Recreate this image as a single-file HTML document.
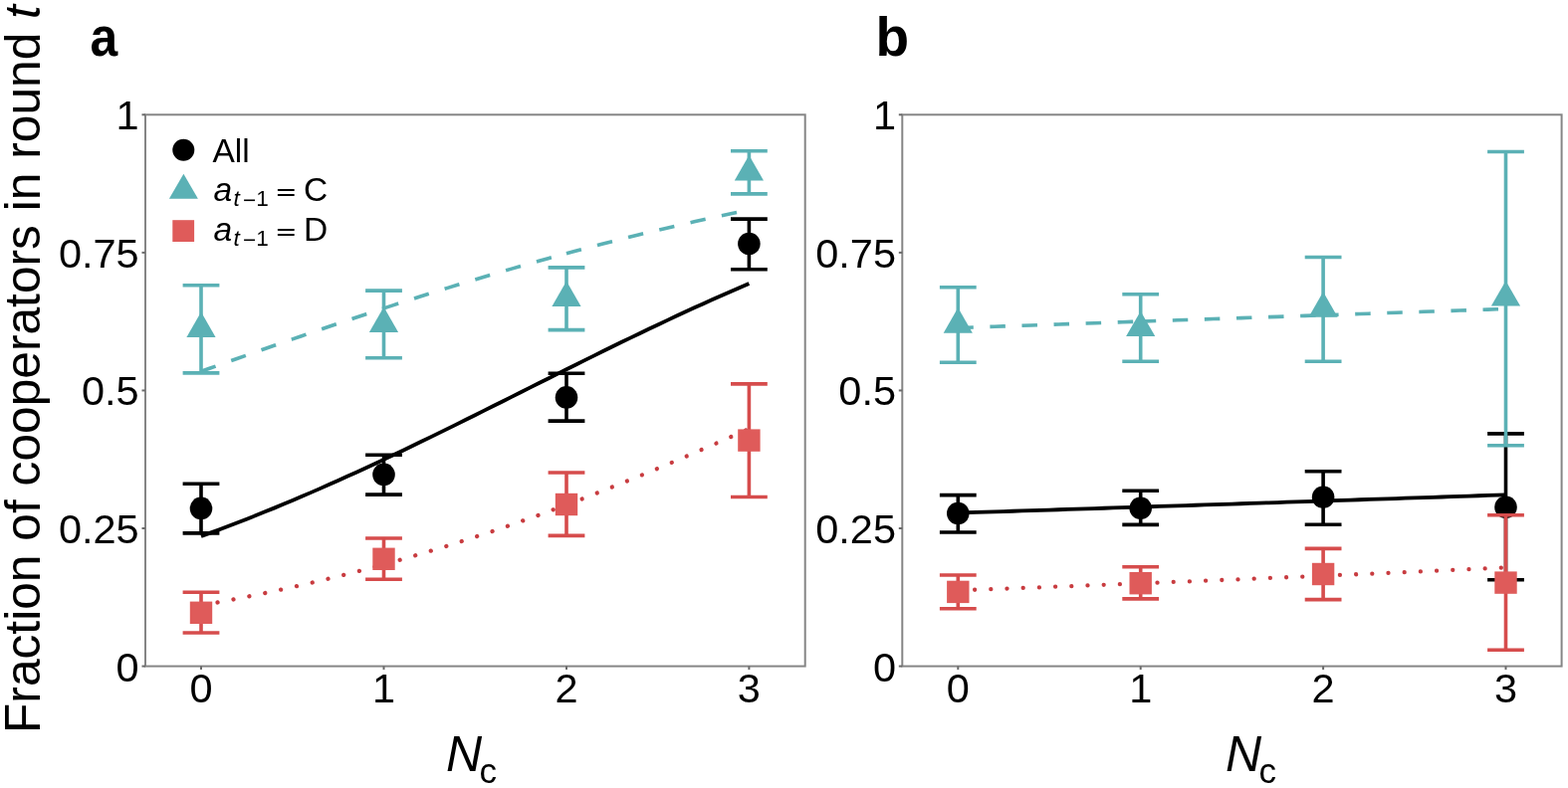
<!DOCTYPE html>
<html><head><meta charset="utf-8"><style>
html,body{margin:0;padding:0;background:#fff;}
body{width:1575px;height:792px;overflow:hidden;}
svg{display:block;}
text{font-family:"Liberation Sans",sans-serif;fill:#000;}
.tk{font-size:41.5px;}
.pl{font-size:55px;font-weight:bold;}
.yt{font-size:49.7px;}
.xt{font-size:50px;}
.sub{font-size:35px;}
.lg{font-size:33.5px;}
.ls{font-size:22.6px;}
</style></head><body>
<svg width="1575" height="792" viewBox="0 0 1575 792">
<rect width="1575" height="792" fill="#fff"/>
<rect x="146.0" y="115.3" width="662.70" height="554.30" fill="none" stroke="#858585" stroke-width="2"/>
<line x1="142.5" y1="669.60" x2="146.0" y2="669.60" stroke="#6a6a6a" stroke-width="2"/>
<line x1="142.5" y1="531.02" x2="146.0" y2="531.02" stroke="#6a6a6a" stroke-width="2"/>
<line x1="142.5" y1="392.45" x2="146.0" y2="392.45" stroke="#6a6a6a" stroke-width="2"/>
<line x1="142.5" y1="253.88" x2="146.0" y2="253.88" stroke="#6a6a6a" stroke-width="2"/>
<line x1="142.5" y1="115.30" x2="146.0" y2="115.30" stroke="#6a6a6a" stroke-width="2"/>
<line x1="202.0" y1="669.6" x2="202.0" y2="673.1" stroke="#6a6a6a" stroke-width="2"/>
<line x1="385.5" y1="669.6" x2="385.5" y2="673.1" stroke="#6a6a6a" stroke-width="2"/>
<line x1="569.0" y1="669.6" x2="569.0" y2="673.1" stroke="#6a6a6a" stroke-width="2"/>
<line x1="752.4" y1="669.6" x2="752.4" y2="673.1" stroke="#6a6a6a" stroke-width="2"/>
<text x="139.70" y="684.50" text-anchor="end" class="tk">0</text>
<text x="139.70" y="545.92" text-anchor="end" class="tk">0.25</text>
<text x="139.70" y="407.35" text-anchor="end" class="tk">0.5</text>
<text x="139.70" y="268.77" text-anchor="end" class="tk">0.75</text>
<text x="139.70" y="130.20" text-anchor="end" class="tk">1</text>
<text x="202.00" y="705.6" text-anchor="middle" class="tk">0</text>
<text x="385.50" y="705.6" text-anchor="middle" class="tk">1</text>
<text x="569.00" y="705.6" text-anchor="middle" class="tk">2</text>
<text x="752.40" y="705.6" text-anchor="middle" class="tk">3</text>
<path d="M202.00,373.30 L211.17,370.02 L220.35,366.74 L229.52,363.48 L238.69,360.22 L247.87,356.97 L257.04,353.73 L266.21,350.50 L275.39,347.28 L284.56,344.08 L293.73,340.88 L302.91,337.71 L312.08,334.54 L321.25,331.40 L330.43,328.26 L339.60,325.15 L348.77,322.06 L357.95,318.98 L367.12,315.92 L376.29,312.88 L385.47,309.87" fill="none" stroke="#5bb1b5" stroke-width="3.6" stroke-dasharray="15.5 16.6"/>
<path d="M385.47,309.87 L394.64,306.87 L403.81,303.90 L412.99,300.95 L422.16,298.02 L431.33,295.11 L440.51,292.23 L449.68,289.38 L458.85,286.55 L468.03,283.74 L477.20,280.96 L486.37,278.21 L495.55,275.49 L504.72,272.79 L513.89,270.12 L523.07,267.47 L532.24,264.86 L541.41,262.27 L550.59,259.72 L559.76,257.19 L568.93,254.69" fill="none" stroke="#5bb1b5" stroke-width="3.6" stroke-dasharray="15.5 16.6"/>
<path d="M568.93,254.69 L578.11,252.22 L587.28,249.78 L596.45,247.37 L605.63,244.99 L614.80,242.64 L623.97,240.32 L633.15,238.03 L642.32,235.77 L651.49,233.54 L660.67,231.34 L669.84,229.17 L679.01,227.03 L688.19,224.92 L697.36,222.84 L706.53,220.80 L715.71,218.78 L724.88,216.79 L734.05,214.83 L743.23,212.90 L752.40,211.00" fill="none" stroke="#5bb1b5" stroke-width="3.6" stroke-dasharray="15.5 16.6"/>
<path d="M202.00,539.00 L211.17,535.65 L220.35,532.24 L229.52,528.78 L238.69,525.26 L247.87,521.68 L257.04,518.05 L266.21,514.36 L275.39,510.62 L284.56,506.82 L293.73,502.97 L302.91,499.07 L312.08,495.12 L321.25,491.12 L330.43,487.07 L339.60,482.98 L348.77,478.84 L357.95,474.66 L367.12,470.44 L376.29,466.17 L385.47,461.87 L394.64,457.54 L403.81,453.17 L412.99,448.76 L422.16,444.33 L431.33,439.87 L440.51,435.39 L449.68,430.88 L458.85,426.35 L468.03,421.80 L477.20,417.24 L486.37,412.66 L495.55,408.07 L504.72,403.48 L513.89,398.87 L523.07,394.27 L532.24,389.66 L541.41,385.05 L550.59,380.45 L559.76,375.85 L568.93,371.27 L578.11,366.69 L587.28,362.13 L596.45,357.59 L605.63,353.06 L614.80,348.56 L623.97,344.08 L633.15,339.63 L642.32,335.20 L651.49,330.81 L660.67,326.44 L669.84,322.11 L679.01,317.82 L688.19,313.57 L697.36,309.35 L706.53,305.18 L715.71,301.05 L724.88,296.97 L734.05,292.93 L743.23,288.94 L752.40,285.00" fill="none" stroke="#000" stroke-width="3.8"/>
<path d="M202.00,608.50 L211.17,606.84 L220.35,605.15 L229.52,603.41 L238.69,601.63 L247.87,599.81 L257.04,597.95 L266.21,596.05 L275.39,594.11 L284.56,592.12 L293.73,590.09 L302.91,588.02 L312.08,585.90 L321.25,583.73 L330.43,581.52 L339.60,579.27 L348.77,576.96 L357.95,574.62 L367.12,572.22 L376.29,569.78 L385.47,567.29" fill="none" stroke="#c83c40" stroke-width="4.3" stroke-dasharray="0.01 16.2" stroke-dashoffset="-0.6" stroke-linecap="round"/>
<path d="M385.47,567.29 L394.64,564.75 L403.81,562.16 L412.99,559.53 L422.16,556.84 L431.33,554.11 L440.51,551.33 L449.68,548.50 L458.85,545.63 L468.03,542.70 L477.20,539.73 L486.37,536.71 L495.55,533.64 L504.72,530.52 L513.89,527.36 L523.07,524.15 L532.24,520.89 L541.41,517.59 L550.59,514.24 L559.76,510.85 L568.93,507.41" fill="none" stroke="#c83c40" stroke-width="4.3" stroke-dasharray="0.01 16.2" stroke-dashoffset="-0.6" stroke-linecap="round"/>
<path d="M568.93,507.41 L578.11,503.93 L587.28,500.41 L596.45,496.85 L605.63,493.24 L614.80,489.60 L623.97,485.92 L633.15,482.20 L642.32,478.44 L651.49,474.65 L660.67,470.82 L669.84,466.96 L679.01,463.07 L688.19,459.15 L697.36,455.20 L706.53,451.23 L715.71,447.23 L724.88,443.20 L734.05,439.16 L743.23,435.09 L752.40,431.00" fill="none" stroke="#c83c40" stroke-width="4.3" stroke-dasharray="0.01 16.2" stroke-dashoffset="-0.6" stroke-linecap="round"/>
<path d="M183.60,486.3 H220.40 M202.00,486.3 V535.9 M183.60,535.9 H220.40" stroke="#000" stroke-width="3.6" fill="none"/>
<circle cx="202.00" cy="510.9" r="11.3" fill="#000"/>
<path d="M367.10,457.2 H403.90 M385.50,457.2 V497.1 M367.10,497.1 H403.90" stroke="#000" stroke-width="3.6" fill="none"/>
<circle cx="385.50" cy="476.9" r="11.3" fill="#000"/>
<path d="M550.60,375.2 H587.40 M569.00,375.2 V423.1 M550.60,423.1 H587.40" stroke="#000" stroke-width="3.6" fill="none"/>
<circle cx="569.00" cy="399.4" r="11.3" fill="#000"/>
<path d="M734.00,220.1 H770.80 M752.40,220.1 V270.7 M734.00,270.7 H770.80" stroke="#000" stroke-width="3.6" fill="none"/>
<circle cx="752.40" cy="245.1" r="11.3" fill="#000"/>
<path d="M183.60,286.7 H220.40 M202.00,286.7 V374.9 M183.60,374.9 H220.40" stroke="#5bb1b5" stroke-width="3.6" fill="none"/>
<path d="M187.40,339.00 L216.60,339.00 L202.00,313.60 Z" fill="#5bb1b5"/>
<path d="M367.10,292.1 H403.90 M385.50,292.1 V359.8 M367.10,359.8 H403.90" stroke="#5bb1b5" stroke-width="3.6" fill="none"/>
<path d="M370.90,334.00 L400.10,334.00 L385.50,308.60 Z" fill="#5bb1b5"/>
<path d="M550.60,268.9 H587.40 M569.00,268.9 V331.6 M550.60,331.6 H587.40" stroke="#5bb1b5" stroke-width="3.6" fill="none"/>
<path d="M554.40,308.00 L583.60,308.00 L569.00,282.60 Z" fill="#5bb1b5"/>
<path d="M734.00,151.7 H770.80 M752.40,151.7 V194.9 M734.00,194.9 H770.80" stroke="#5bb1b5" stroke-width="3.6" fill="none"/>
<path d="M737.80,181.40 L767.00,181.40 L752.40,156.00 Z" fill="#5bb1b5"/>
<path d="M183.60,595.3 H220.40 M202.00,595.3 V636.0 M183.60,636.0 H220.40" stroke="#d64c4c" stroke-width="3.6" fill="none"/>
<rect x="190.80" y="604.60" width="22.4" height="22.4" fill="#df5b5a"/>
<path d="M367.10,541.0 H403.90 M385.50,541.0 V582.3 M367.10,582.3 H403.90" stroke="#d64c4c" stroke-width="3.6" fill="none"/>
<rect x="374.30" y="550.60" width="22.4" height="22.4" fill="#df5b5a"/>
<path d="M550.60,475.0 H587.40 M569.00,475.0 V538.4 M550.60,538.4 H587.40" stroke="#d64c4c" stroke-width="3.6" fill="none"/>
<rect x="557.80" y="495.80" width="22.4" height="22.4" fill="#df5b5a"/>
<path d="M734.00,385.9 H770.80 M752.40,385.9 V499.5 M734.00,499.5 H770.80" stroke="#d64c4c" stroke-width="3.6" fill="none"/>
<rect x="741.20" y="431.40" width="22.4" height="22.4" fill="#df5b5a"/>
<rect x="906.3" y="115.3" width="662.30" height="554.30" fill="none" stroke="#858585" stroke-width="2"/>
<line x1="902.8" y1="669.60" x2="906.3" y2="669.60" stroke="#6a6a6a" stroke-width="2"/>
<line x1="902.8" y1="531.02" x2="906.3" y2="531.02" stroke="#6a6a6a" stroke-width="2"/>
<line x1="902.8" y1="392.45" x2="906.3" y2="392.45" stroke="#6a6a6a" stroke-width="2"/>
<line x1="902.8" y1="253.88" x2="906.3" y2="253.88" stroke="#6a6a6a" stroke-width="2"/>
<line x1="902.8" y1="115.30" x2="906.3" y2="115.30" stroke="#6a6a6a" stroke-width="2"/>
<line x1="962.3" y1="669.6" x2="962.3" y2="673.1" stroke="#6a6a6a" stroke-width="2"/>
<line x1="1145.7" y1="669.6" x2="1145.7" y2="673.1" stroke="#6a6a6a" stroke-width="2"/>
<line x1="1329.1" y1="669.6" x2="1329.1" y2="673.1" stroke="#6a6a6a" stroke-width="2"/>
<line x1="1512.5" y1="669.6" x2="1512.5" y2="673.1" stroke="#6a6a6a" stroke-width="2"/>
<text x="900.00" y="684.50" text-anchor="end" class="tk">0</text>
<text x="900.00" y="545.92" text-anchor="end" class="tk">0.25</text>
<text x="900.00" y="407.35" text-anchor="end" class="tk">0.5</text>
<text x="900.00" y="268.77" text-anchor="end" class="tk">0.75</text>
<text x="900.00" y="130.20" text-anchor="end" class="tk">1</text>
<text x="962.30" y="705.6" text-anchor="middle" class="tk">0</text>
<text x="1145.70" y="705.6" text-anchor="middle" class="tk">1</text>
<text x="1329.10" y="705.6" text-anchor="middle" class="tk">2</text>
<text x="1512.50" y="705.6" text-anchor="middle" class="tk">3</text>
<path d="M962.30,329.50 L971.47,329.18 L980.64,328.86 L989.81,328.53 L998.98,328.21 L1008.15,327.89 L1017.32,327.57 L1026.49,327.25 L1035.66,326.93 L1044.83,326.60 L1054.00,326.28 L1063.17,325.96 L1072.34,325.64 L1081.51,325.32 L1090.68,325.00 L1099.85,324.68 L1109.02,324.36 L1118.19,324.04 L1127.36,323.72 L1136.53,323.41 L1145.70,323.09" fill="none" stroke="#5bb1b5" stroke-width="3.6" stroke-dasharray="15.5 16.6"/>
<path d="M1145.70,323.09 L1154.87,322.77 L1164.04,322.45 L1173.21,322.13 L1182.38,321.81 L1191.55,321.49 L1200.72,321.18 L1209.89,320.86 L1219.06,320.54 L1228.23,320.23 L1237.40,319.91 L1246.57,319.59 L1255.74,319.28 L1264.91,318.96 L1274.08,318.64 L1283.25,318.33 L1292.42,318.01 L1301.59,317.70 L1310.76,317.38 L1319.93,317.07 L1329.10,316.75" fill="none" stroke="#5bb1b5" stroke-width="3.6" stroke-dasharray="15.5 16.6"/>
<path d="M1329.10,316.75 L1338.27,316.44 L1347.44,316.12 L1356.61,315.81 L1365.78,315.49 L1374.95,315.18 L1384.12,314.87 L1393.29,314.55 L1402.46,314.24 L1411.63,313.93 L1420.80,313.61 L1429.97,313.30 L1439.14,312.99 L1448.31,312.68 L1457.48,312.37 L1466.65,312.05 L1475.82,311.74 L1484.99,311.43 L1494.16,311.12 L1503.33,310.81 L1512.50,310.50" fill="none" stroke="#5bb1b5" stroke-width="3.6" stroke-dasharray="15.5 16.6"/>
<path d="M962.30,515.50 L971.47,515.21 L980.64,514.91 L989.81,514.62 L998.98,514.32 L1008.15,514.03 L1017.32,513.73 L1026.49,513.44 L1035.66,513.14 L1044.83,512.85 L1054.00,512.55 L1063.17,512.25 L1072.34,511.96 L1081.51,511.66 L1090.68,511.36 L1099.85,511.06 L1109.02,510.76 L1118.19,510.46 L1127.36,510.17 L1136.53,509.87 L1145.70,509.57 L1154.87,509.27 L1164.04,508.96 L1173.21,508.66 L1182.38,508.36 L1191.55,508.06 L1200.72,507.76 L1209.89,507.46 L1219.06,507.15 L1228.23,506.85 L1237.40,506.55 L1246.57,506.24 L1255.74,505.94 L1264.91,505.64 L1274.08,505.33 L1283.25,505.03 L1292.42,504.72 L1301.59,504.42 L1310.76,504.11 L1319.93,503.80 L1329.10,503.50 L1338.27,503.19 L1347.44,502.88 L1356.61,502.58 L1365.78,502.27 L1374.95,501.96 L1384.12,501.65 L1393.29,501.34 L1402.46,501.03 L1411.63,500.72 L1420.80,500.41 L1429.97,500.10 L1439.14,499.79 L1448.31,499.48 L1457.48,499.17 L1466.65,498.86 L1475.82,498.55 L1484.99,498.24 L1494.16,497.93 L1503.33,497.61 L1512.50,497.30" fill="none" stroke="#000" stroke-width="3.8"/>
<path d="M962.30,593.40 L971.47,593.06 L980.64,592.71 L989.81,592.37 L998.98,592.02 L1008.15,591.68 L1017.32,591.33 L1026.49,590.98 L1035.66,590.63 L1044.83,590.27 L1054.00,589.92 L1063.17,589.56 L1072.34,589.21 L1081.51,588.85 L1090.68,588.49 L1099.85,588.13 L1109.02,587.77 L1118.19,587.40 L1127.36,587.04 L1136.53,586.67 L1145.70,586.31" fill="none" stroke="#c83c40" stroke-width="4.3" stroke-dasharray="0.01 16.2" stroke-dashoffset="-0.6" stroke-linecap="round"/>
<path d="M1145.70,586.31 L1154.87,585.94 L1164.04,585.57 L1173.21,585.20 L1182.38,584.82 L1191.55,584.45 L1200.72,584.08 L1209.89,583.70 L1219.06,583.32 L1228.23,582.94 L1237.40,582.56 L1246.57,582.18 L1255.74,581.80 L1264.91,581.41 L1274.08,581.02 L1283.25,580.64 L1292.42,580.25 L1301.59,579.86 L1310.76,579.47 L1319.93,579.07 L1329.10,578.68" fill="none" stroke="#c83c40" stroke-width="4.3" stroke-dasharray="0.01 16.2" stroke-dashoffset="-0.6" stroke-linecap="round"/>
<path d="M1329.10,578.68 L1338.27,578.28 L1347.44,577.89 L1356.61,577.49 L1365.78,577.09 L1374.95,576.69 L1384.12,576.28 L1393.29,575.88 L1402.46,575.47 L1411.63,575.07 L1420.80,574.66 L1429.97,574.25 L1439.14,573.84 L1448.31,573.43 L1457.48,573.01 L1466.65,572.60 L1475.82,572.18 L1484.99,571.76 L1494.16,571.34 L1503.33,570.92 L1512.50,570.50" fill="none" stroke="#c83c40" stroke-width="4.3" stroke-dasharray="0.01 16.2" stroke-dashoffset="-0.6" stroke-linecap="round"/>
<path d="M943.90,497.6 H980.70 M962.30,497.6 V535.0 M943.90,535.0 H980.70" stroke="#000" stroke-width="3.6" fill="none"/>
<circle cx="962.30" cy="516.0" r="11.3" fill="#000"/>
<path d="M1127.30,493.3 H1164.10 M1145.70,493.3 V527.4 M1127.30,527.4 H1164.10" stroke="#000" stroke-width="3.6" fill="none"/>
<circle cx="1145.70" cy="510.7" r="11.3" fill="#000"/>
<path d="M1310.70,473.8 H1347.50 M1329.10,473.8 V527.3 M1310.70,527.3 H1347.50" stroke="#000" stroke-width="3.6" fill="none"/>
<circle cx="1329.10" cy="499.8" r="11.3" fill="#000"/>
<path d="M1494.10,435.9 H1530.90 M1512.50,435.9 V582.7 M1494.10,582.7 H1530.90" stroke="#000" stroke-width="3.6" fill="none"/>
<circle cx="1512.50" cy="509.8" r="11.3" fill="#000"/>
<path d="M943.90,288.75 H980.70 M962.30,288.75 V364.2 M943.90,364.2 H980.70" stroke="#5bb1b5" stroke-width="3.6" fill="none"/>
<path d="M947.70,334.70 L976.90,334.70 L962.30,309.30 Z" fill="#5bb1b5"/>
<path d="M1127.30,295.8 H1164.10 M1145.70,295.8 V363.3 M1127.30,363.3 H1164.10" stroke="#5bb1b5" stroke-width="3.6" fill="none"/>
<path d="M1131.10,338.10 L1160.30,338.10 L1145.70,312.70 Z" fill="#5bb1b5"/>
<path d="M1310.70,258.5 H1347.50 M1329.10,258.5 V363.3 M1310.70,363.3 H1347.50" stroke="#5bb1b5" stroke-width="3.6" fill="none"/>
<path d="M1314.50,318.70 L1343.70,318.70 L1329.10,293.30 Z" fill="#5bb1b5"/>
<path d="M1494.10,152.5 H1530.90 M1512.50,152.5 V447.7 M1494.10,447.7 H1530.90" stroke="#5bb1b5" stroke-width="3.6" fill="none"/>
<path d="M1497.90,307.60 L1527.10,307.60 L1512.50,282.20 Z" fill="#5bb1b5"/>
<path d="M943.90,578.0 H980.70 M962.30,578.0 V611.8 M943.90,611.8 H980.70" stroke="#d64c4c" stroke-width="3.6" fill="none"/>
<rect x="951.10" y="583.70" width="22.4" height="22.4" fill="#df5b5a"/>
<path d="M1127.30,569.7 H1164.10 M1145.70,569.7 V601.9 M1127.30,601.9 H1164.10" stroke="#d64c4c" stroke-width="3.6" fill="none"/>
<rect x="1134.50" y="575.00" width="22.4" height="22.4" fill="#df5b5a"/>
<path d="M1310.70,551.4 H1347.50 M1329.10,551.4 V602.6 M1310.70,602.6 H1347.50" stroke="#d64c4c" stroke-width="3.6" fill="none"/>
<rect x="1317.90" y="565.80" width="22.4" height="22.4" fill="#df5b5a"/>
<path d="M1494.10,517.7 H1530.90 M1512.50,517.7 V653.3 M1494.10,653.3 H1530.90" stroke="#d64c4c" stroke-width="3.6" fill="none"/>
<rect x="1501.30" y="574.40" width="22.4" height="22.4" fill="#df5b5a"/>
<text transform="translate(90.6,55.5) scale(0.905,1)" class="pl">a</text>
<text x="879.5" y="55.5" class="pl">b</text>
<text transform="translate(40.4,737) rotate(-90)" class="yt">Fraction of cooperators in round <tspan font-style="italic">t</tspan></text>
<text x="448.0" y="775" class="xt" font-style="italic">N</text>
<text x="481.5" y="786.5" class="sub">c</text>
<text x="1231.0" y="775" class="xt" font-style="italic">N</text>
<text x="1264.5" y="786.5" class="sub">c</text>
<circle cx="184.3" cy="150.8" r="11" fill="#000"/>
<text x="213.4" y="163.3" class="lg">All</text>
<path d="M169.9,199.8 L198.9,199.8 L184.4,174.7 Z" fill="#5bb1b5"/>
<rect x="173.3" y="221.2" width="21.8" height="21.8" fill="#df5b5a"/>
<text x="214.5" y="201.8" class="lg" font-style="italic">a</text>
<text x="234.5" y="206.9" class="ls" font-style="italic">t</text>
<text x="244.0" y="209.4" class="ls">−</text>
<text x="257.2" y="206.9" class="ls">1</text>
<text transform="translate(277.5,200.3) scale(1,0.57)" class="lg" font-weight="bold">=</text>
<text x="305.0" y="201.8" class="lg">C</text>
<text x="214.5" y="241.8" class="lg" font-style="italic">a</text>
<text x="234.5" y="246.9" class="ls" font-style="italic">t</text>
<text x="244.0" y="249.4" class="ls">−</text>
<text x="257.2" y="246.9" class="ls">1</text>
<text transform="translate(277.5,240.3) scale(1,0.57)" class="lg" font-weight="bold">=</text>
<text x="305.0" y="241.8" class="lg">D</text>
</svg>
</body></html>
